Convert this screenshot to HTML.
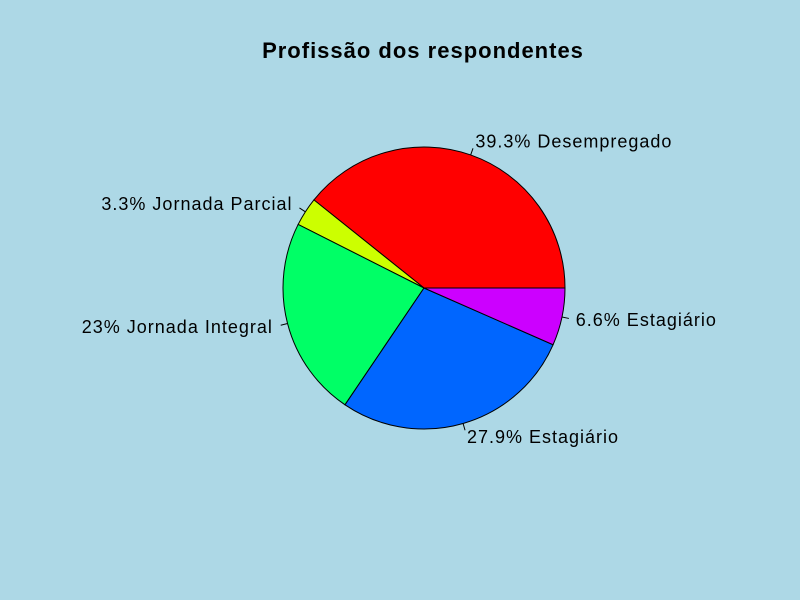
<!DOCTYPE html>
<html><head><meta charset="utf-8">
<style>
html,body{margin:0;padding:0;background:#ADD8E6;}
svg{display:block;}
text{font-family:"Liberation Sans",Arial,sans-serif;}
</style></head>
<body>
<svg id="chart" width="800" height="600" viewBox="0 0 800 600">
<rect width="800" height="600" fill="#ADD8E6"/>
<text x="423" y="58" text-anchor="middle" font-size="22" letter-spacing="1" font-weight="bold" fill="#000">Profissão dos respondentes</text>
<g id="slices"></g>
</svg>
<script>
const values = [39.3, 3.3, 23, 27.9, 6.6];
const labels = ["39.3% Desempregado", "3.3% Jornada Parcial", "23% Jornada Integral", "27.9% Estagiário", "6.6% Estagiário"];
const colors = ["#FF0000", "#CCFF00", "#00FF66", "#0066FF", "#CC00FF"];
const sliceNames = ["slice-desempregado", "slice-jornada-parcial", "slice-jornada-integral", "slice-estagiario-1", "slice-estagiario-2"];

const NS = "http://www.w3.org/2000/svg";
const g = document.getElementById("slices");
const cx = 424, cy = 288, r = 141;
const total = values.reduce((a, b) => a + b, 0);
function pt(a, rr) { return [cx + rr * Math.cos(a), cy - rr * Math.sin(a)]; }
let start = 0;
values.forEach((v, i) => {
  const a0 = start / total * 2 * Math.PI;
  const a1 = (start + v) / total * 2 * Math.PI;
  start += v;
  const p0 = pt(a0, r), p1 = pt(a1, r);
  const large = (a1 - a0) > Math.PI ? 1 : 0;
  const path = document.createElementNS(NS, "path");
  path.setAttribute("d", `M${cx},${cy} L${p0[0]},${p0[1]} A${r},${r} 0 ${large} 0 ${p1[0]},${p1[1]} Z`);
  path.setAttribute("fill", colors[i]);
  path.setAttribute("stroke", "#000");
  path.setAttribute("stroke-width", "1");
  
  
  g.appendChild(path);
  const am = (a0 + a1) / 2;
  const l0 = pt(am, r), l1 = pt(am, r * 1.05), lt = pt(am, r * 1.1);
  const line = document.createElementNS(NS, "line");
  line.setAttribute("x1", l0[0]); line.setAttribute("y1", l0[1]);
  line.setAttribute("x2", l1[0]); line.setAttribute("y2", l1[1]);
  line.setAttribute("stroke", "#000");
  
  
  g.appendChild(line);
  const t = document.createElementNS(NS, "text");
  t.setAttribute("x", lt[0] + (Math.cos(am) > 0 ? 0 : -1));
  t.setAttribute("y", lt[1] + 6);
  t.setAttribute("font-size", "18");
  t.setAttribute("letter-spacing", "1");
  t.setAttribute("text-anchor", Math.cos(am) > 0 ? "start" : "end");
  t.textContent = labels[i];
  
  
  g.appendChild(t);
});
</script>
</body></html>
